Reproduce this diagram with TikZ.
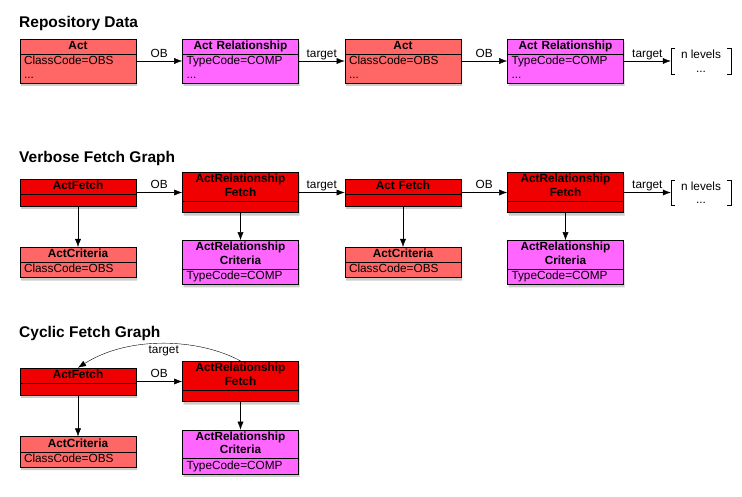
\documentclass[tikz,border=0pt]{standalone}
\usepackage{fontspec}
\setmainfont{Liberation Sans}
\usetikzlibrary{shapes.multipart,shadows,positioning,arrows.meta}
\definecolor{actred}{RGB}{255,102,102}
\definecolor{fetchred}{RGB}{240,0,0}
\definecolor{relpink}{RGB}{255,102,255}
\newcommand{\boxfont}{\fontsize{11.8}{13.5}\selectfont}
\newcommand{\hd}[1]{\noindent\parbox{108pt}{\centering\bfseries\strut #1\strut}}
\tikzstyle{box}=[draw,rectangle split,rectangle split parts=2,align=left,
  text width=108pt,inner xsep=4pt,inner ysep=.5pt,font=\boxfont,line width=.7pt,
  drop shadow={shadow xshift=1pt,shadow yshift=-3pt,opacity=.4}]
\tikzstyle{act}=[box,fill=actred]
\tikzstyle{rel}=[box,fill=relpink]
\tikzstyle{fetch}=[box,fill=fetchred]
\tikzstyle{more}=[align=center,minimum width=60pt,minimum height=25pt,
  inner sep=0pt,font=\boxfont]
\tikzstyle{lbl}=[font=\boxfont,text height=1.5ex,text depth=.25ex,inner sep=2pt]
\tikzstyle{title}=[anchor=base west,inner sep=0pt,
  font=\fontsize{15.5}{18}\selectfont\bfseries]

\begin{document}
\begin{tikzpicture}[>={Latex[length=8pt,width=6pt]}, on grid,
  node distance=162.5pt, x=1pt, y=1pt]
  \useasboundingbox (0,0) rectangle (742,-496);

  % repository data
  \node[title] (t1) at (19,-27) {Repository Data};
  \node[act] (act1) at (78,-61) {\hd{Act}\nodepart{two}\strut ClassCode=OBS\\\strut...};
  \node[rel, right=of act1] (rel1) {\hd{Act Relationship}\nodepart{two}\strut TypeCode=COMP\\\strut...};
  \node[act, right=of rel1] (act2) {\hd{Act}\nodepart{two}\strut ClassCode=OBS\\\strut...};
  \node[rel, right=of act2] (rel2) {\hd{Act Relationship}\nodepart{two}\strut TypeCode=COMP\\\strut...};
  \node[more, right=135.5pt of rel2] (lev1) {n levels\\...};
  \draw[->] (act1) -- node[lbl,above] {OB} (rel1);
  \draw[->] (rel1) -- node[lbl,above] {target} (act2);
  \draw[->] (act2) -- node[lbl,above] {OB} (rel2);
  \draw[->] (rel2) -- node[lbl,above] {target} (lev1);

  % verbose fetch graph
  \node[title] (t2) at (19,-162) {Verbose Fetch Graph};
  \node[fetch] (af1) at (78,-192.5) {\hd{ActFetch}\nodepart{two}\rule{0pt}{10pt}};
  \node[fetch, right=of af1] (rf1) {\hd{ActRelationship\\Fetch}\nodepart{two}\rule{0pt}{10pt}};
  \node[fetch, right=of rf1] (af2) {\hd{Act Fetch}\nodepart{two}\rule{0pt}{10pt}};
  \node[fetch, right=of af2] (rf2) {\hd{ActRelationship\\Fetch}\nodepart{two}\rule{0pt}{10pt}};
  \node[more, right=135.5pt of rf2] (lev2) {n levels\\...};
  \node[act, below=70pt of af1] (ac1) {\hd{ActCriteria}\nodepart{two}\strut ClassCode=OBS};
  \node[rel, below=70pt of rf1] (rc1) {\hd{ActRelationship\\Criteria}\nodepart{two}\strut TypeCode=COMP};
  \node[act, below=70pt of af2] (ac2) {\hd{ActCriteria}\nodepart{two}\strut ClassCode=OBS};
  \node[rel, below=70pt of rf2] (rc2) {\hd{ActRelationship\\Criteria}\nodepart{two}\strut TypeCode=COMP};
  \draw[->] (af1) -- node[lbl,above] {OB} (rf1);
  \draw[->] (rf1) -- node[lbl,above] {target} (af2);
  \draw[->] (af2) -- node[lbl,above] {OB} (rf2);
  \draw[->] (rf2) -- node[lbl,above] {target} (lev2);
  \draw[->] (af1) -- (ac1);
  \draw[->] (rf1) -- (rc1);
  \draw[->] (af2) -- (ac2);
  \draw[->] (rf2) -- (rc2);

  % brackets round the n levels
  \foreach \m in {lev1,lev2} {
    \draw ([xshift=4pt]\m.north west) -- (\m.north west) -- (\m.south west) -- ([xshift=4pt]\m.south west);
    \draw ([xshift=-4pt]\m.north east) -- (\m.north east) -- (\m.south east) -- ([xshift=-4pt]\m.south east);
  }

  % cyclic fetch graph
  \node[title] (t3) at (19,-337) {Cyclic Fetch Graph};
  \node[fetch] (af3) at (78,-381.5) {\hd{ActFetch}\nodepart{two}\rule{0pt}{10pt}};
  \node[fetch, right=of af3] (rf3) {\hd{ActRelationship\\Fetch}\nodepart{two}\rule{0pt}{10pt}};
  \node[act, below=70.5pt of af3] (ac3) {\hd{ActCriteria}\nodepart{two}\strut ClassCode=OBS};
  \node[rel, below=70.5pt of rf3] (rc3) {\hd{ActRelationship\\Criteria}\nodepart{two}\strut TypeCode=COMP};
  \draw[->] (af3) -- node[lbl,above] {OB} (rf3);
  \draw[->] (rf3.north) .. controls +(-40,22) and +(52,33) .. node[lbl,below,pos=.5] {target} (af3.north);
  \draw[->] (af3) -- (ac3);
  \draw[->] (rf3) -- (rc3);
\end{tikzpicture}
\end{document}
